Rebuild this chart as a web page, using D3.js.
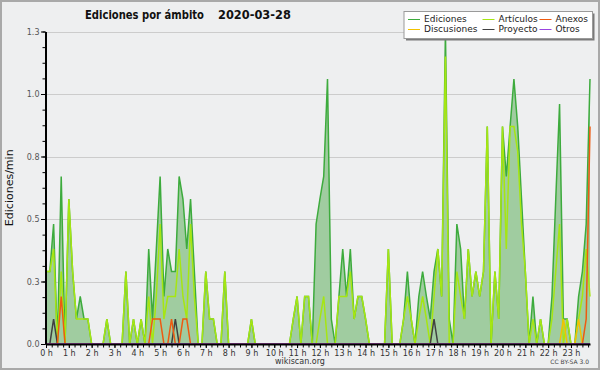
<!DOCTYPE html>
<html>
<head>
<meta charset="utf-8">
<script src="https://cdn.jsdelivr.net/npm/d3@7"></script>
<style>
  html, body { margin: 0; padding: 0; background: #fff; }
  svg { display: block; font-family: "DejaVu Sans", sans-serif; }
</style>
</head>
<body>
<svg id="chart" width="600" height="370"></svg>
<script>
let kCanvas = { "w": 600, "h": 370 };

let kChart = {
  "x": 46,
  "y": 31.5,
  "w": 544,
  "h": 312.5
};

let kColors = {
  "bg": "#eeeff0",
  "border": "#a9a9a9",
  "grid": "#cccccc",
  "fill": "#a0cca0",
  "ediciones": "#3dab3d",
  "articulos": "#a6e612",
  "discusiones": "#f2c200",
  "proyecto": "#404040",
  "anexos": "#ee5a10",
  "otros": "#9a44e0"
};

// one value per 10 minutes, edits per minute
const BIN_MINUTES = 10;

let kHourLabels = ["0 h","1 h","2 h","3 h","4 h","5 h","6 h","7 h","8 h","9 h","10 h","11 h",
                   "12 h","13 h","14 h","15 h","16 h","17 h","18 h","19 h","20 h","21 h","22 h","23 h"];
let kYTicks  = [0, 0.25, 0.5, 0.75, 1.0, 1.25];
let kYLabels = ["0.0", "0.3", "0.5", "0.8", "1.0", "1.3"];

let ediciones = [
  .29,.29,.48,0,.67,0,.58,.29,.1,.19,.1,.1,
  0,0,0,0,.1,0,0,0,0,.29,0,.1,
  0,.1,0,.38,.1,.38,.67,.19,.38,.29,.29,.67,
  .58,.38,.58,.29,0,0,.29,.1,.1,0,0,.29,
  0,0,0,0,0,0,.1,0,0,0,0,0,
  0,0,0,0,0,.1,.19,0,.19,.19,0,.48,
  .58,.67,1.06,.1,0,.19,.38,.19,.38,.1,.19,.19,
  .1,0,0,0,0,0,.38,0,0,0,.1,.29,
  .1,0,.19,.29,.19,.1,.29,.38,.19,1.25,.1,0,
  .48,.38,.1,.38,.19,.29,.19,.29,.87,0,.29,.1,
  .87,.67,.87,1.06,.87,.58,.29,0,.19,0,.1,0,
  0,.19,.58,.96,.1,.1,0,0,.19,.29,.48,1.06
];

let articulos = [
  .29,.29,.38,0,.29,0,.58,.29,.1,.1,.1,.1,
  0,0,0,0,.1,0,0,0,0,.29,0,.1,
  0,.1,0,.19,0,.19,.48,.1,.19,.19,.19,.38,
  .19,.1,.48,.19,0,0,.29,.1,.1,0,0,.29,
  0,0,0,0,0,0,.1,0,0,0,0,0,
  0,0,0,0,0,.1,.19,0,.19,.19,0,0,
  .1,.19,0,0,0,.19,.19,.19,.29,.1,.19,.19,
  .1,0,0,0,0,0,.38,0,0,0,.1,.19,
  .1,0,.1,.19,.1,0,.19,.38,.19,1.15,0,0,
  .29,.19,.1,.38,.19,.29,.19,.29,.87,0,.29,.1,
  .87,.38,.87,.87,.77,.48,.29,0,.1,0,.1,0,
  0,.1,.29,.48,0,.1,0,0,.1,.19,.38,.19
];

let discusiones = [
  0,0,0,0,0,0,0,0,0,0,0,0,
  0,0,0,0,0,0,0,0,0,0,0,0,
  0,0,0,0,0,0,0,0,0,0,0,0,
  0,0,0,0,0,0,0,0,0,0,0,0,
  0,0,0,0,0,0,0,0,0,0,0,0,
  0,0,0,0,0,0,0,0,0,0,0,0,
  0,0,0,0,0,0,0,0,0,0,0,0,
  0,0,0,0,0,0,0,0,0,0,0,0,
  0,0,0,0,0,0,0,0,0,0,0,0,
  0,0,0,0,0,0,0,0,0,0,0,0,
  0,0,0,0,0,0,0,0,0,0,0,0,
  0,0,0,0,.1,0,0,0,.1,0,0,0
];

let proyecto = [
  0,0,.1,0,0,0,0,0,0,0,0,0,
  0,0,0,0,0,0,0,0,0,0,0,0,
  0,0,0,0,0,0,0,0,0,0,.1,0,
  0,0,0,0,0,0,0,0,0,0,0,0,
  0,0,0,0,0,0,0,0,0,0,0,0,
  0,0,0,0,0,0,0,0,0,0,0,0,
  0,0,0,0,0,0,0,0,0,0,0,0,
  0,0,0,0,0,0,0,0,0,0,0,0,
  0,0,0,0,0,0,.1,0,0,0,0,0,
  0,0,0,0,0,0,0,0,0,0,0,0,
  0,0,0,0,0,0,0,0,0,0,0,0,
  0,0,0,0,0,0,0,0,0,0,0,0
];

let anexos = [
  0,0,0,0,.19,0,0,0,0,0,0,0,
  0,0,0,0,0,0,0,0,0,0,0,0,
  0,0,0,0,.1,.1,.1,0,0,.1,0,0,
  .1,.1,0,0,0,0,0,0,0,0,0,0,
  0,0,0,0,0,0,0,0,0,0,0,0,
  0,0,0,0,0,0,0,0,0,0,0,0,
  0,0,0,0,0,0,0,0,0,0,0,0,
  0,0,0,0,0,0,0,0,0,0,0,0,
  0,0,0,0,0,0,0,0,0,0,0,0,
  0,0,0,0,0,0,0,0,0,0,0,0,
  0,0,0,0,0,0,0,0,0,0,0,0,
  0,0,0,0,0,0,0,0,0,0,.1,.87
];

let otros = [
  0,0,0,0,0,0,0,0,0,0,0,0,
  0,0,0,0,0,0,0,0,0,0,0,0,
  0,0,0,0,0,0,0,0,0,0,0,0,
  0,0,0,0,0,0,0,0,0,0,0,0,
  0,0,0,0,0,0,0,0,0,0,0,0,
  0,0,0,0,0,0,0,0,0,0,0,0,
  0,0,0,0,0,0,0,0,0,0,0,0,
  0,0,0,0,0,0,0,0,0,0,0,0,
  0,0,0,0,0,0,0,0,0,0,0,0,
  0,0,0,0,0,0,0,0,0,0,0,0,
  0,0,0,0,0,0,0,0,0,0,0,0,
  0,0,0,0,0,0,0,0,0,0,0,0
];

// drawing order: Ediciones first, the others on top
let kSeries = [
  { "name": "Ediciones",   "values": ediciones,   "color": kColors.ediciones },
  { "name": "Artículos",   "values": articulos,   "color": kColors.articulos },
  { "name": "Discusiones", "values": discusiones, "color": kColors.discusiones },
  { "name": "Proyecto",    "values": proyecto,    "color": kColors.proyecto },
  { "name": "Anexos",      "values": anexos,      "color": kColors.anexos },
  { "name": "Otros",       "values": otros,       "color": kColors.otros }
];

// legend columns, top row then bottom row
let kLegendOrder = [["Ediciones", "Discusiones"], ["Artículos", "Proyecto"], ["Anexos", "Otros"]];


let svg = d3.select("#chart");

let x = d3.scaleLinear()
  .domain([0, (ediciones.length - 1) * BIN_MINUTES])
  .range([kChart.x, kChart.x + kChart.w]);

let y = d3.scaleLinear()
  .domain([0, d3.max(ediciones)])
  .range([kChart.y + kChart.h, kChart.y]);


function drawBackground(){
  svg.append("rect")
    .attr("x", 1).attr("y", 1)
    .attr("width", kCanvas.w - 2).attr("height", kCanvas.h - 2)
    .attr("fill", kColors.bg)
    .attr("stroke", kColors.border)
    .attr("stroke-width", 2);
}


function drawTitle(){
  // the original font is narrower than DejaVu, squeeze it a little
  svg.append("text")
    .attr("transform", "translate(85,18.5) scale(0.835,1)")
    .attr("font-size", 12).attr("font-weight", "bold")
    .attr("fill", "#111")
    .text("Ediciones por ámbito");

  svg.append("text")
    .attr("transform", "translate(218,18.5) scale(0.95,1)")
    .attr("font-size", 12).attr("font-weight", "bold")
    .attr("fill", "#111")
    .text("2020-03-28");
}


function drawGrid(){
  svg.append("g")
    .selectAll("line")
    .data(kYTicks.slice(1))
    .enter()
    .append("line")
    .attr("x1", kChart.x).attr("x2", kChart.x + kChart.w)
    .attr("y1", d => Math.round(y(d)) + 0.5)
    .attr("y2", d => Math.round(y(d)) + 0.5)
    .attr("stroke", kColors.grid)
    .attr("stroke-width", 1);
}


function drawArea(){
  let area = d3.area()
    .x((d, i) => x(i * BIN_MINUTES))
    .y0(y(0))
    .y1(d => y(d));

  svg.append("path")
    .datum(ediciones)
    .attr("d", area)
    .attr("fill", kColors.fill)
    .attr("stroke", "none");
}


function drawLines(){
  let line = d3.line()
    .x((d, i) => x(i * BIN_MINUTES))
    .y(d => y(d));

  svg.append("g")
    .selectAll("path")
    .data(kSeries)
    .enter()
    .append("path")
    .attr("d", s => line(s.values))
    .attr("fill", "none")
    .attr("stroke", s => s.color)
    .attr("stroke-width", 1.5)
    .attr("stroke-linejoin", "miter");
}


function drawAxes(){
  let bottom = kChart.y + kChart.h;

  // x: minor ticks every 15 min
  svg.append("g")
    .attr("transform", "translate(0," + bottom + ")")
    .call(d3.axisBottom(x)
      .tickValues(d3.range(0, 24 * 60, 15))
      .tickSize(3.5)
      .tickFormat(""))
    .call(g => g.select(".domain").remove());

  // x: hours
  let xAxis = svg.append("g")
    .attr("transform", "translate(0," + bottom + ")")
    .call(d3.axisBottom(x)
      .tickValues(kHourLabels.map((l, h) => h * 60))
      .tickSize(4)
      .tickSizeOuter(0)
      .tickPadding(2)
      .tickFormat((d, i) => kHourLabels[i]));

  xAxis.select(".domain").attr("stroke", "#000").attr("stroke-width", 2);
  xAxis.selectAll("text").attr("font-size", 8).attr("fill", "#333").attr("font-family", "DejaVu Sans");

  // y: minor ticks
  svg.append("g")
    .attr("transform", "translate(" + (kChart.x - 0.5) + ",0)")
    .call(d3.axisLeft(y)
      .tickValues(d3.range(0, 1.26, 0.0625))
      .tickSize(3)
      .tickFormat(""))
    .call(g => g.select(".domain").remove());

  let yAxis = svg.append("g")
    .attr("transform", "translate(" + (kChart.x - 0.5) + ",0)")
    .call(d3.axisLeft(y)
      .tickValues(kYTicks)
      .tickSize(4.5)
      .tickSizeOuter(0)
      .tickPadding(1.5)
      .tickFormat((d, i) => kYLabels[i]));

  yAxis.select(".domain").attr("stroke", "#000").attr("stroke-width", 2);
  yAxis.selectAll("text").attr("font-size", 8).attr("fill", "#555").attr("font-family", "DejaVu Sans");

  // y title
  svg.append("text")
    .attr("transform", "translate(13," + (kChart.y + kChart.h / 2) + ") rotate(-90)")
    .attr("text-anchor", "middle")
    .attr("font-size", 11)
    .attr("fill", "#111")
    .text("Ediciones/min");
}


function drawLegend(){
  let lx = 404, ly = 11.5, lw = 188.5, lh = 27;

  svg.append("rect")
    .attr("x", lx + 2).attr("y", ly + 2)
    .attr("width", lw).attr("height", lh)
    .attr("fill", "#7a7a7a");

  svg.append("rect")
    .attr("x", lx).attr("y", ly)
    .attr("width", lw).attr("height", lh)
    .attr("fill", "#ffffff")
    .attr("stroke", "#9a9a9a")
    .attr("stroke-width", 1);

  let colX = [408, 482.5, 539.5];
  let rowY = [19.5, 29.5];

  kLegendOrder.forEach(function(col, ci){
    col.forEach(function(name, ri){
      let s = kSeries.find(d => d.name === name);
      svg.append("line")
        .attr("x1", colX[ci]).attr("x2", colX[ci] + 12)
        .attr("y1", rowY[ri]).attr("y2", rowY[ri])
        .attr("stroke", s.color)
        .attr("stroke-width", 1);
      svg.append("text")
        .attr("x", colX[ci] + 16).attr("y", rowY[ri] + 2.8)
        .attr("font-size", 9)
        .attr("fill", "#222")
        .text(name);
    });
  });
}


function drawNotes(){
  svg.append("text")
    .attr("x", 300).attr("y", 364)
    .attr("text-anchor", "middle")
    .attr("font-size", 8)
    .attr("fill", "#333")
    .text("wikiscan.org");

  svg.append("text")
    .attr("x", 589).attr("y", 364)
    .attr("text-anchor", "end")
    .attr("font-size", 6)
    .attr("fill", "#444")
    .text("CC BY-SA 3.0");
}


drawBackground();
drawTitle();
drawGrid();
drawArea();
drawLines();
drawAxes();
drawLegend();
drawNotes();
</script>
</body>
</html>
